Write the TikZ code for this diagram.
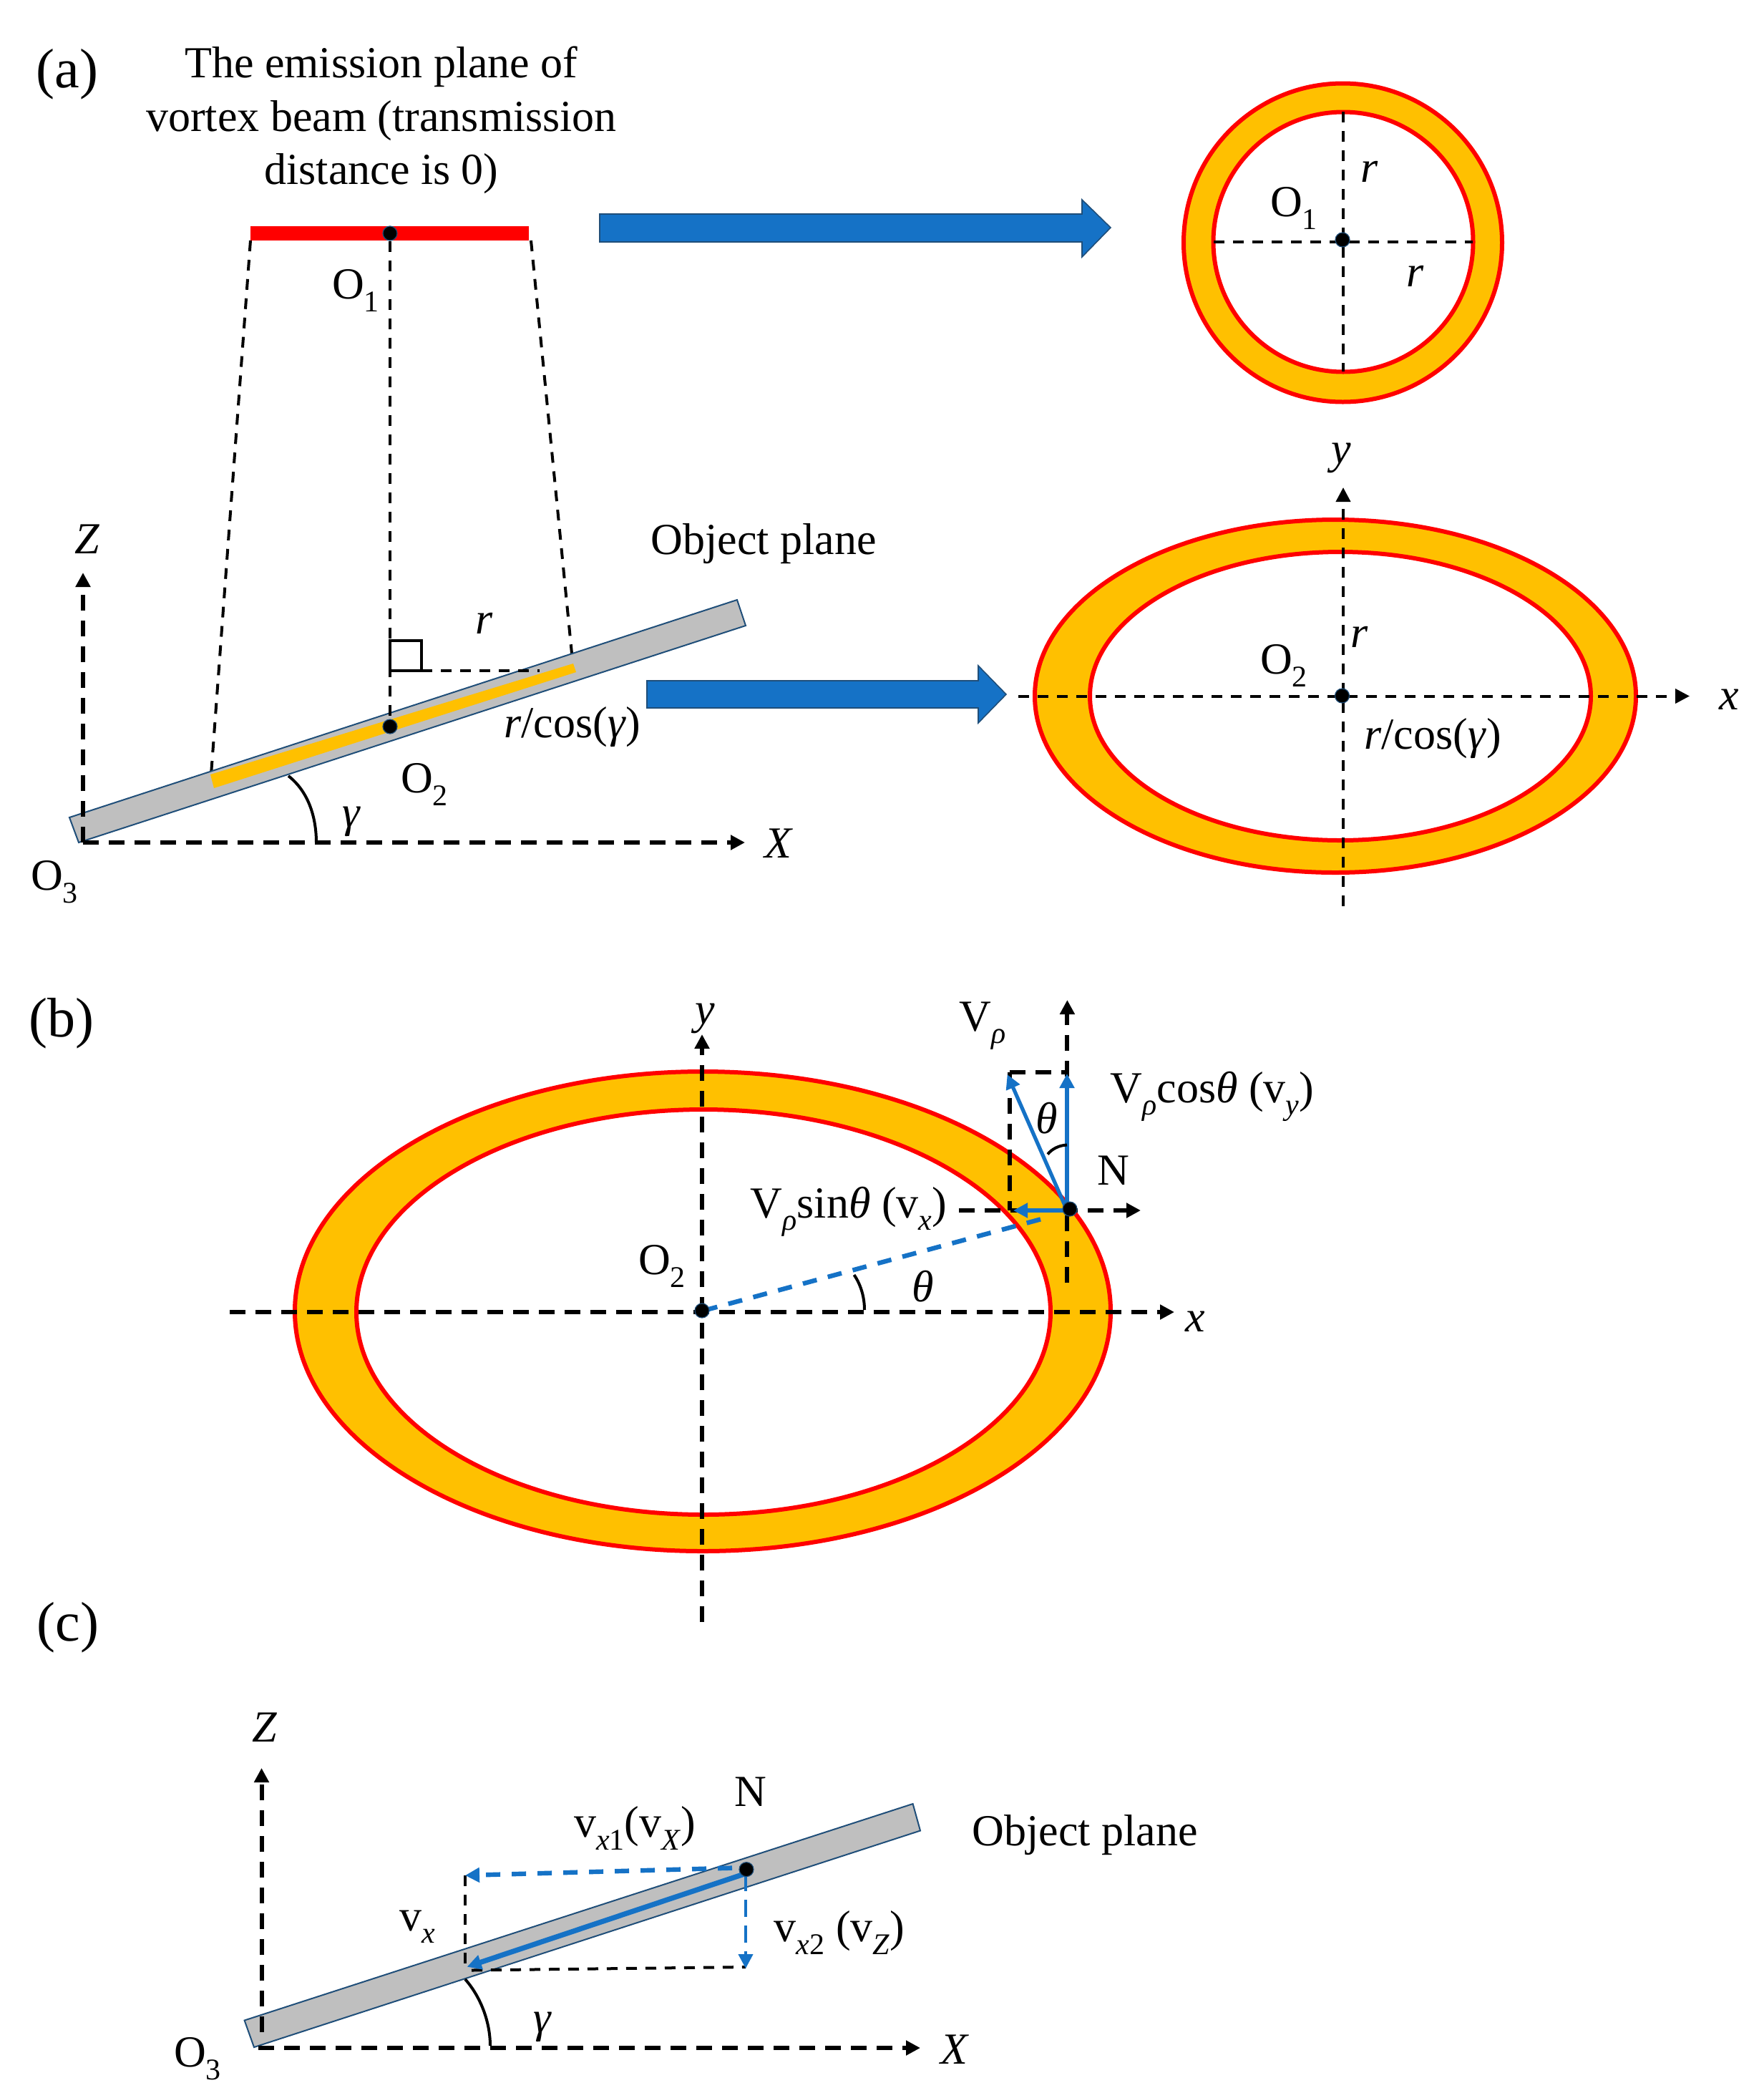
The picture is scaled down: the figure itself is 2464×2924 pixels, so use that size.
\documentclass[tikz,border=0pt]{standalone}
\usepackage{fontspec}
\setmainfont{Liberation Serif}
\usetikzlibrary{arrows.meta}

\definecolor{ringfill}{HTML}{FFC000}
\definecolor{ringline}{HTML}{FF0000}
\definecolor{vecblue}{HTML}{1572C6}
\definecolor{edgeblue}{HTML}{1F4E79}
\definecolor{planegray}{HTML}{BFBFBF}

\newcommand{\lowsub}[1]{\raisebox{-0.28em}{\fontsize{10.5}{12}\selectfont #1}}
\newcommand{\itm}[1]{\textit{#1}}

\tikzset{
	every picture/.style={line width=0.75pt},
	every node/.style={font=\fontsize{15.5}{18.6}\selectfont, inner sep=0pt},
	partlabel/.style={font=\fontsize{19.5}{22}\selectfont},
	ring/.style={draw=ringline, line width=1.5pt, fill=ringfill, even odd rule},
	blockarrow/.style={draw=edgeblue, line width=0.4pt, fill=vecblue},
	plane/.style={draw=edgeblue, line width=0.5pt, fill=planegray},
	thindash/.style={line width=1pt, dash pattern=on 3.75pt off 3pt},
	thickdash/.style={line width=1.5pt, dash pattern=on 5.5pt off 3.5pt},
	axishead/.style={-{Triangle[length=5pt,width=5pt]}},
	bluedash/.style={draw=vecblue, line width=1.6pt, dash pattern=on 5pt off 4pt},
	bluevec/.style={draw=vecblue, line width=1.3pt, -{Triangle[length=5pt,width=5pt]}},
	anglearc/.style={line width=1pt},
	dotmark/.style={circle, fill=black, draw=edgeblue, line width=0.3pt, minimum size=5pt}
}

\begin{document}
\begin{tikzpicture}[x=0.25pt,y=0.25pt,yscale=-1,xscale=1]
	\useasboundingbox (0,0) rectangle (2464,2924);

	%%%% part (a), left side
	\coordinate (barL) at (350,326);
	\coordinate (barR) at (739,326);
	\coordinate (sideLt) at (350,336);
	\coordinate (sideLb) at (295,1082);
	\coordinate (sideRt) at (742,336);
	\coordinate (sideRb) at (801,933);
	\coordinate (corner) at (589,937);
	\coordinate (cornerEnd) at (754,937);
	\coordinate (orgA) at (116,1177);
	\coordinate (zTipA) at (116,800);
	\coordinate (xTipA) at (1041,1177);

	%Straight Lines
	\draw [thindash] (sideLt) -- (sideLb);
	\draw [thindash] (sideRt) -- (sideRb);
	%Shape: Plane
	\draw [plane] (97,1142) -- (1030,838) -- (1042,874) -- (110,1177) -- cycle;
	%Shape: Footprint
	\fill [ringfill] (294,1082) -- (801,927) -- (805,939) -- (299,1101) -- cycle;
	%Straight Lines
	\draw [line width=5pt, draw=ringline, line cap=butt] (barL) -- (barR);
	\draw [line width=1pt] (544.5,895) rectangle (589,937);
	\draw [thindash] (corner) -- (cornerEnd);
	\node [dotmark] (dotOa) at (545,326) {};
	\node [dotmark] (dotOb) at (545,1015) {};
	\draw [thindash] (dotOa) -- (dotOb);
	%Axes
	\draw [thickdash, axishead] (orgA) -- (zTipA);
	\draw [thickdash, axishead] (orgA) -- (xTipA);
	%Curve Lines
	\draw [anglearc] (403,1084) .. controls (430,1105) and (442,1140) .. (442,1177);

	%Block Arrows
	\draw [blockarrow] (838,299) -- (1512,299) -- (1512,279) -- (1552,318) -- (1512,359) -- (1512,338) -- (838,338) -- cycle;
	\draw [blockarrow] (904,951) -- (1367,951) -- (1367,930) -- (1406,970) -- (1367,1010) -- (1367,989) -- (904,989) -- cycle;

	%%%% part (a), right side
	%Shape: Ring
	\draw [ring] (1876.5,339) circle [radius=222.5] (1877,338) circle [radius=181.5];
	\coordinate (circT) at (1877,156);
	\coordinate (circB) at (1877,519);
	\coordinate (circL) at (1696,338);
	\coordinate (circR) at (2058,338);
	\draw [thindash] (circT) -- (circB);
	\draw [thindash] (circL) -- (circR);
	\node [dotmark] (dotCirc) at (1876,335) {};

	%Shape: Ring
	\draw [ring] (1866,972.5) ellipse [x radius=420, y radius=246.5] (1873,972.5) ellipse [x radius=350, y radius=201.5];
	\coordinate (ellB) at (1877,1266);
	\coordinate (ellT) at (1877,681);
	\coordinate (ellL) at (1423,972.5);
	\coordinate (ellR) at (2361,972.5);
	\draw [thindash, axishead] (ellB) -- (ellT);
	\draw [thindash, axishead] (ellL) -- (ellR);
	\node [dotmark] (dotEll) at (1875.5,972) {};

	%%%% part (b)
	%Shape: Ring
	\draw [ring] (982,1832) ellipse [x radius=570, y radius=335] (983,1833) ellipse [x radius=485, y radius=283];
	\coordinate (orgB) at (983,1831);
	\coordinate (yBotB) at (981,2266);
	\coordinate (yTipB) at (981,1445);
	\coordinate (xBotB) at (321,1833);
	\coordinate (xTipB) at (1641,1833);
	\coordinate (upBot) at (1491.4,1792);
	\coordinate (upTip) at (1491.4,1397);
	\coordinate (sideL) at (1340,1691);
	\coordinate (sideR) at (1594,1691);
	\coordinate (rectTL) at (1411,1498);
	\coordinate (rectTR) at (1491.4,1498);
	\coordinate (rectBL) at (1411,1691);
	\coordinate (radEnd) at (1459,1702);
	\coordinate (nTail) at (1488,1684);
	\coordinate (nTailL) at (1488,1691);
	\coordinate (nTailU) at (1491,1689);
	\coordinate (vTip) at (1407.6,1501);
	\coordinate (vyTip) at (1491,1500);
	\coordinate (vxTip) at (1416,1691);
	%Axes
	\draw [thickdash, axishead] (yBotB) -- (yTipB);
	\draw [thickdash, axishead] (xBotB) -- (xTipB);
	\draw [thickdash, axishead] (upBot) -- (upTip);
	\draw [thickdash, axishead] (sideL) -- (sideR);
	\draw [thickdash] (rectTL) -- (rectTR);
	\draw [thickdash] (rectTL) -- (rectBL);
	%Vectors
	\draw [bluedash] (orgB) -- (radEnd);
	\draw [bluevec] (nTail) -- (vTip);
	\draw [bluevec] (nTailU) -- (vyTip);
	\draw [bluevec] (nTailL) -- (vxTip);
	\node [dotmark] (dotO2b) at (981,1831) {};
	\node [dotmark] (dotN) at (1495,1689) {};
	%Curve Lines
	\draw [anglearc] (1193.5,1781) .. controls (1203,1795) and (1208,1812) .. (1208,1830);
	\draw [anglearc] (1464,1612.5) .. controls (1470,1605) and (1480,1600) .. (1491,1599.5);

	%%%% part (c)
	%Shape: Plane
	\draw [plane] (341.6,2822.5) -- (1275.6,2520) -- (1286,2557.5) -- (355,2860) -- cycle;
	\coordinate (orgC) at (361,2861);
	\coordinate (zBotC) at (365.5,2839);
	\coordinate (zTipC) at (365.5,2470);
	\coordinate (xTipC) at (1286,2861);
	\coordinate (boxTL) at (650,2620);
	\coordinate (boxBL) at (650,2748);
	\coordinate (boxBLb) at (659,2752.5);
	\coordinate (boxBR) at (1042,2748);
	\coordinate (nDash) at (1023,2609.6);
	\coordinate (nSolid) at (1040,2618);
	\coordinate (nDown) at (1042,2618);
	\coordinate (vxEnd) at (652.6,2747.7);
	\coordinate (vzEnd) at (1042,2750);
	\draw [thickdash, axishead] (zBotC) -- (zTipC);
	\draw [thickdash, axishead] (orgC) -- (xTipC);
	\draw [thindash] (boxTL) -- (boxBL);
	\draw [thindash] (boxBLb) -- (boxBR);
	%Vectors
	\draw [bluedash, -{Triangle[length=5pt,width=5pt]}] (nDash) -- (boxTL);
	\draw [bluevec, line width=1.8pt] (nSolid) -- (vxEnd);
	\draw [bluevec, line width=1pt, dash pattern=on 6pt off 3pt] (nDown) -- (vzEnd);
	\node [dotmark] (dotNc) at (1043,2611.6) {};
	%Curve Lines
	\draw [anglearc] (650,2765) .. controls (672,2790) and (685,2825) .. (685,2858);

	% Text Node
	\draw (94,104) node [partlabel] (labelA) {(a)};
	% Text Node
	\draw (533,168) node [align=center] (labelTitle) {The emission plane of\\vortex beam (transmission\\distance is 0)};
	% Text Node
	\draw (497,406) node (labelOa) {O\lowsub{1}};
	% Text Node
	\draw (122,753) node (labelZa) {\itm{Z}};
	% Text Node
	\draw (1067,760) node (labelPlaneA) {Object plane};
	% Text Node
	\draw (677,871) node (labelRa) {\itm{r}};
	% Text Node
	\draw (800,1016) node (labelRcosA) {\itm{r}/cos(\itm{γ})};
	% Text Node
	\draw (593,1096) node (labelOb) {O\lowsub{2}};
	% Text Node
	\draw (491,1148) node (labelGammaA) {\itm{γ}};
	% Text Node
	\draw (76,1232) node (labelOcA) {O\lowsub{3}};
	% Text Node
	\draw (1088,1178) node (labelXa) {\itm{X}};
	% Text Node
	\draw (1808,291) node (labelOcirc) {O\lowsub{1}};
	% Text Node
	\draw (1914,240) node (labelRcircA) {\itm{r}};
	% Text Node
	\draw (1978,386) node (labelRcircB) {\itm{r}};
	% Text Node
	\draw (1874,640) node (labelYa) {\itm{y}};
	% Text Node
	\draw (1794,930) node (labelOell) {O\lowsub{2}};
	% Text Node
	\draw (1900,890) node (labelRell) {\itm{r}};
	% Text Node
	\draw (2416,977) node (labelXell) {\itm{x}};
	% Text Node
	\draw (2002,1032) node (labelRcosB) {\itm{r}/cos(\itm{γ})};

	% Text Node
	\draw (86,1430) node [partlabel] (labelB) {(b)};
	% Text Node
	\draw (985,1423) node (labelYb) {\itm{y}};
	% Text Node
	\draw (1373,1433) node (labelVrho) {V\lowsub{\itm{ρ}}};
	% Text Node
	\draw (1694,1532) node (labelVcos) {V\lowsub{\itm{ρ}}cos\itm{θ} (v\lowsub{\itm{y}})};
	% Text Node
	\draw (1463,1562) node (labelThetaU) {\itm{θ}};
	% Text Node
	\draw (1556,1635) node (labelN) {N};
	% Text Node
	\draw (1186,1693) node (labelVsin) {V\lowsub{\itm{ρ}}sin\itm{θ} (v\lowsub{\itm{x}})};
	% Text Node
	\draw (925,1769) node (labelO2b) {O\lowsub{2}};
	% Text Node
	\draw (1290,1797) node (labelThetaL) {\itm{θ}};
	% Text Node
	\draw (1670,1846) node (labelXb) {\itm{x}};

	% Text Node
	\draw (95,2274) node [partlabel] (labelC) {(c)};
	% Text Node
	\draw (370,2413) node (labelZc) {\itm{Z}};
	% Text Node
	\draw (1049,2503) node (labelNc) {N};
	% Text Node
	\draw (887,2554) node (labelVxa) {v\lowsub{\itm{x}1}(v\lowsub{\itm{X}})};
	% Text Node
	\draw (1516,2564) node (labelPlaneC) {Object plane};
	% Text Node
	\draw (583,2692) node (labelVx) {v\lowsub{\itm{x}}};
	% Text Node
	\draw (1173,2700) node (labelVxb) {v\lowsub{\itm{x}2} (v\lowsub{\itm{Z}})};
	% Text Node
	\draw (758,2832) node (labelGammaC) {\itm{γ}};
	% Text Node
	\draw (276,2876) node (labelOcC) {O\lowsub{3}};
	% Text Node
	\draw (1334,2863) node (labelXc) {\itm{X}};

\end{tikzpicture}
\end{document}
